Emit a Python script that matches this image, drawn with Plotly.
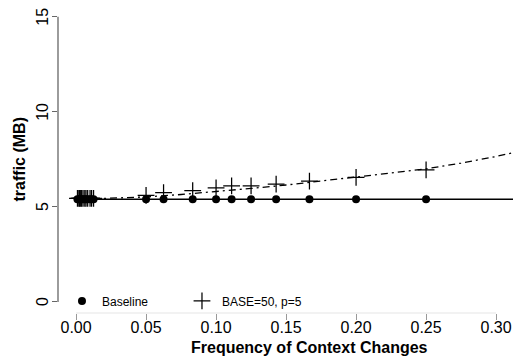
import plotly.graph_objects as go

# Data
freq = [0.001, 0.002, 0.0025, 0.0033, 0.004, 0.005, 0.00625, 0.0071, 0.0083, 0.01, 0.0111, 0.0125,
        0.05, 0.0625, 0.0833, 0.1, 0.1111, 0.125, 0.1429, 0.1667, 0.2, 0.25]
baseline = [5.4] * len(freq)
base50 = [5.45, 5.45, 5.45, 5.45, 5.45, 5.45, 5.45, 5.45, 5.45, 5.45, 5.45, 5.45,
          5.6, 5.75, 5.85, 6.0, 6.1, 6.1, 6.2, 6.35, 6.55, 6.95]

# Fitted curves
fit_x = [0.0, 0.025, 0.05, 0.075, 0.1, 0.125, 0.15, 0.175, 0.2, 0.225, 0.25, 0.275, 0.3, 0.33]
fit_base50 = [5.4, 5.45, 5.52, 5.65, 5.8, 5.97, 6.15, 6.35, 6.56, 6.78, 7.0, 7.3, 7.65, 8.15]
fit_baseline = [5.4] * len(fit_x)

xticks = [0.0, 0.05, 0.1, 0.15, 0.2, 0.25, 0.3]
xticklabels = ["0.00", "0.05", "0.10", "0.15", "0.20", "0.25", "0.30"]
yticks = [0, 5, 10, 15]
yticklabels = ["0", "5", "10", "15"]

FONT = "Liberation Sans, Arial, Helvetica, sans-serif"

fig = go.Figure()
fig.add_trace(go.Scatter(x=fit_x, y=fit_baseline, mode="lines",
                         line=dict(color="black", width=1.4), showlegend=False, hoverinfo="skip"))
fig.add_trace(go.Scatter(x=fit_x, y=fit_base50, mode="lines",
                         line=dict(color="black", width=1.3, dash="7px,4px,2px,4px"),
                         showlegend=False, hoverinfo="skip"))
fig.add_trace(go.Scatter(x=freq, y=baseline, mode="markers", name="Baseline",
                         marker=dict(symbol="circle", size=8, color="black")))
fig.add_trace(go.Scatter(x=freq, y=base50, mode="markers", name="BASE=50, p=5",
                         marker=dict(symbol="cross-thin-open", size=12, color="black",
                                     line=dict(color="black", width=1.25))))

# R-style axis lines spanning only the tick range
fig.add_shape(type="line", xref="paper", yref="y", x0=0, x1=0, y0=0, y1=15,
              line=dict(color="#666666", width=1.3))
fig.add_shape(type="line", xref="x", yref="paper", x0=0, x1=0.3, y0=0, y1=0,
              line=dict(color="#eeeeee", width=1.5))

annotations = [
    dict(text="<b>Frequency of Context Changes</b>", xref="paper", yref="paper",
         x=0.544, y=-0.115, xanchor="center", yanchor="middle", showarrow=False,
         font=dict(size=16, family=FONT)),
    dict(text="<b>traffic (MB)</b>", xref="paper", yref="paper",
         x=-0.083, y=0.507, xanchor="center", yanchor="middle", showarrow=False,
         textangle=-90, font=dict(size=16, family=FONT)),
]
# rotated y tick labels (R style)
for v, lab in zip(yticks, yticklabels):
    annotations.append(dict(text=lab, xref="paper", yref="y", x=0, y=v,
                            xanchor="center", yanchor="middle", xshift=-15,
                            showarrow=False, textangle=-90,
                            font=dict(size=16, family=FONT)))

fig.update_layout(
    width=513, height=350,
    margin=dict(l=50, r=0, t=3, b=45),
    paper_bgcolor="white", plot_bgcolor="white",
    font=dict(family=FONT, color="black"),
    xaxis=dict(range=[-0.0129, 0.3178], tickvals=xticks, ticktext=xticklabels,
               ticks="outside", ticklen=6, tickcolor="#999999", tickwidth=1,
               ticklabelstandoff=-6,
               showgrid=False, zeroline=False, showline=False,
               tickfont=dict(size=16, family=FONT)),
    yaxis=dict(range=[-0.58, 15.3], tickvals=yticks, showticklabels=False,
               ticks="outside", ticklen=5, tickcolor="#666666", tickwidth=1,
               showgrid=False, zeroline=False, showline=False),
    legend=dict(orientation="h", x=0.0086, y=0.04, xanchor="left", yanchor="middle",
                bgcolor="rgba(0,0,0,0)", font=dict(size=12, family=FONT),
                itemwidth=30, entrywidth=75, entrywidthmode="pixels"),
    annotations=annotations,
)

fig.write_html("out.html")
